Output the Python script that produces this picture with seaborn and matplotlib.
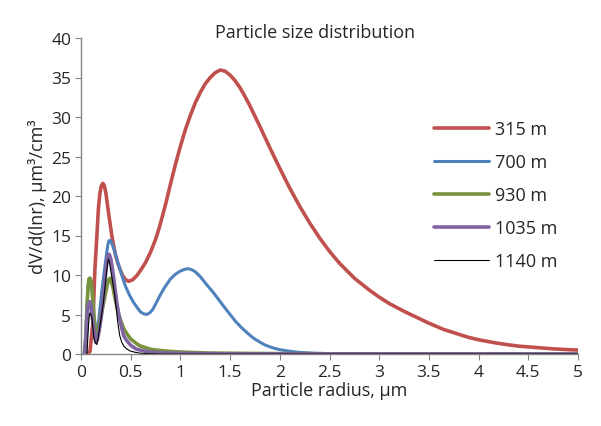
import numpy as np
import pandas as pd
import matplotlib
matplotlib.use("Agg")
import matplotlib.pyplot as plt
import seaborn as sns

# values
x_315 = [0.05, 0.09, 0.12, 0.14, 0.16, 0.175, 0.19, 0.205, 0.22, 0.235, 0.25, 0.265, 0.28,
         0.31, 0.33, 0.35, 0.37, 0.39, 0.42, 0.45, 0.48, 0.52, 0.56, 0.60, 0.65, 0.70, 0.75,
         0.79, 0.85, 0.90, 0.95, 1.00, 1.05, 1.10, 1.15, 1.20, 1.25, 1.30, 1.35, 1.40, 1.45,
         1.50, 1.55, 1.60, 1.65, 1.70, 1.75, 1.80, 1.90, 2.00, 2.10, 2.20, 2.30, 2.40, 2.50,
         2.60, 2.75, 2.90, 3.00, 3.10, 3.25, 3.40, 3.50, 3.65, 3.75, 3.90, 4.00, 4.15, 4.25,
         4.40, 4.50, 4.65, 4.75, 4.90, 5.00]
y_315 = [0.0, 0.3, 4.0, 10.8, 15.0, 18.4, 20.3, 21.3, 21.6, 21.3, 20.4, 19.0, 17.6,
         15.0, 13.6, 12.4, 11.5, 10.8, 9.9, 9.4, 9.2, 9.4, 9.9, 10.6, 11.6, 12.9, 14.5,
         16.1, 18.9, 21.5, 24.0, 26.3, 28.4, 30.2, 31.8, 33.1, 34.2, 35.0, 35.6, 35.95, 35.8,
         35.3, 34.6, 33.7, 32.6, 31.4, 30.1, 28.8, 26.1, 23.5, 21.0, 18.7, 16.6, 14.7, 13.0,
         11.5, 9.6, 8.1, 7.2, 6.4, 5.4, 4.5, 3.9, 3.1, 2.7, 2.1, 1.8, 1.45, 1.25,
         1.0, 0.9, 0.75, 0.65, 0.55, 0.5]

x_700 = [0.03, 0.04, 0.05, 0.06, 0.07, 0.08, 0.09, 0.10, 0.11, 0.12, 0.13, 0.14, 0.155, 0.17,
         0.18, 0.195, 0.21, 0.225, 0.24, 0.255, 0.27, 0.28, 0.29, 0.30, 0.31, 0.33, 0.35,
         0.37, 0.39, 0.42, 0.45, 0.49, 0.53, 0.57, 0.60, 0.63, 0.66, 0.69, 0.72, 0.75, 0.79,
         0.84, 0.90, 0.95, 1.00, 1.04, 1.07, 1.11, 1.15, 1.20, 1.25, 1.29, 1.33, 1.39, 1.45,
         1.50, 1.55, 1.61, 1.67, 1.73, 1.80, 1.85, 1.90, 1.95, 2.00, 2.10, 2.20, 2.35, 2.50,
         3.00, 5.00]
y_700 = [0.0, 1.2, 3.0, 6.0, 8.5, 9.4, 9.6, 9.3, 8.5, 6.8, 5.0, 3.8, 3.0, 3.5,
         4.5, 6.2, 8.0, 9.5, 11.0, 12.5, 13.8, 14.3, 14.4, 14.3, 14.0, 13.3, 12.5,
         11.6, 10.8, 9.6, 8.5, 7.4, 6.5, 5.8, 5.3, 5.1, 5.0, 5.2, 5.6, 6.3, 7.3,
         8.4, 9.5, 10.1, 10.5, 10.7, 10.8, 10.7, 10.4, 9.8, 9.0, 8.4, 7.8, 6.8, 5.8,
         5.0, 4.2, 3.4, 2.7, 2.05, 1.5, 1.15, 0.9, 0.7, 0.55, 0.35, 0.2, 0.1, 0.05,
         0.0, 0.0]

x_930 = [0.04, 0.05, 0.06, 0.07, 0.08, 0.09, 0.10, 0.11, 0.12, 0.135, 0.15, 0.165, 0.18, 0.20,
         0.22, 0.24, 0.26, 0.275, 0.29, 0.305, 0.32, 0.34, 0.36, 0.38, 0.40, 0.43, 0.46,
         0.50, 0.55, 0.59, 0.65, 0.70, 0.77, 0.83, 0.90, 1.00, 1.15, 1.30, 1.60, 2.00, 2.50,
         5.00]
y_930 = [0.0, 2.5, 6.0, 8.3, 9.5, 9.6, 9.3, 8.2, 6.5, 4.0, 2.2, 2.5, 3.5, 4.8,
         6.0, 7.3, 8.5, 9.3, 9.6, 9.2, 8.5, 7.2, 6.0, 5.0, 4.2, 3.2, 2.6,
         1.9, 1.4, 1.05, 0.8, 0.6, 0.48, 0.4, 0.33, 0.25, 0.18, 0.12, 0.08, 0.05, 0.02,
         0.0]

x_1035 = [0.04, 0.05, 0.06, 0.07, 0.08, 0.09, 0.10, 0.11, 0.12, 0.135, 0.15, 0.165, 0.18,
          0.19, 0.205, 0.22, 0.235, 0.25, 0.265, 0.275, 0.285, 0.30, 0.315, 0.33, 0.345,
          0.36, 0.38, 0.40, 0.43, 0.46, 0.50, 0.56, 0.63, 0.70, 0.85, 1.00, 1.50, 5.00]
y_1035 = [0.0, 2.0, 4.5, 6.0, 6.6, 6.6, 6.2, 5.2, 4.0, 2.5, 1.5, 1.8, 2.8,
          3.5, 4.8, 6.5, 8.5, 10.5, 12.0, 12.6, 12.6, 12.0, 10.9, 9.5, 8.0,
          6.5, 5.0, 3.8, 2.3, 1.7, 1.1, 0.6, 0.4, 0.25, 0.13, 0.08, 0.02, 0.0]

x_1140 = [0.06, 0.065, 0.075, 0.082, 0.09, 0.10, 0.11, 0.12, 0.13, 0.145, 0.16, 0.175, 0.19,
          0.205, 0.225, 0.24, 0.25, 0.265, 0.275, 0.285, 0.30, 0.32, 0.34, 0.355, 0.37,
          0.39, 0.41, 0.43, 0.46, 0.49, 0.55, 0.60, 0.70, 0.80, 5.00]
y_1140 = [0.0, 1.2, 3.5, 4.7, 5.2, 5.0, 4.5, 3.3, 2.0, 1.4, 1.2, 2.2, 3.5,
          4.8, 6.5, 8.3, 9.5, 11.2, 12.0, 11.7, 10.5, 9.0, 7.4, 5.7, 4.0,
          2.3, 1.5, 1.0, 0.65, 0.4, 0.2, 0.1, 0.04, 0.0, 0.0]

labels = ["315 m", "700 m", "930 m", "1035 m", "1140 m"]
xs = [x_315, x_700, x_930, x_1035, x_1140]
ys = [y_315, y_700, y_930, y_1035, y_1140]
colors = ["#C0504D", "#4F81BD", "#77933C", "#8064A2", "#000000"]
widths = [2.6, 2.2, 2.6, 2.6, 0.8]

x_ticks = [0, 0.5, 1, 1.5, 2, 2.5, 3, 3.5, 4, 4.5, 5]
x_ticklabels = ["0", "0.5", "1", "1.5", "2", "2.5", "3", "3.5", "4", "4.5", "5"]
y_ticks = [0, 5, 10, 15, 20, 25, 30, 35, 40]

sns.set_style("white")
plt.rcParams['font.family'] = ['Open Sans', 'DejaVu Sans']

fig = plt.figure(figsize=(6.01, 4.27), dpi=100)
ax = fig.add_axes([81 / 601, 72 / 427, 497 / 601, 316 / 427])

for i, lab in enumerate(labels):
    df = pd.DataFrame({"r": xs[i], "v": ys[i]})
    sns.lineplot(data=df, x="r", y="v", ax=ax, color=colors[i], linewidth=widths[i],
                 label=lab, sort=False, solid_capstyle="round", solid_joinstyle="round")

ax.set_xlim(0, 5)
ax.set_ylim(0, 40)
ax.set_xticks(x_ticks)
ax.set_xticklabels(x_ticklabels)
ax.set_yticks(y_ticks)
ax.tick_params(axis="both", labelsize=12.5, length=4, width=0.8, color="#868686",
               direction="out", pad=3, bottom=True, left=True)

for side in ["top", "right"]:
    ax.spines[side].set_visible(False)
for side in ["left", "bottom"]:
    ax.spines[side].set_color("#868686")
    ax.spines[side].set_linewidth(1.0)

ax.set_xlabel("Particle radius, μm", fontsize=13, labelpad=1)
ax.set_ylabel("dV/d(lnr), μm³/cm³", fontsize=13, labelpad=3)

fig.text(315 / 601, 1 - 33 / 427, "Particle size distribution", fontsize=13,
         ha="center", va="center")

ax.legend(loc="upper left", bbox_to_anchor=(427 / 601, 1 - 114 / 427),
          bbox_transform=fig.transFigure, frameon=False, fontsize=13,
          handlelength=3.05, handletextpad=0.3, labelspacing=0.83, borderaxespad=0)

fig.savefig("out.png", dpi=100)
